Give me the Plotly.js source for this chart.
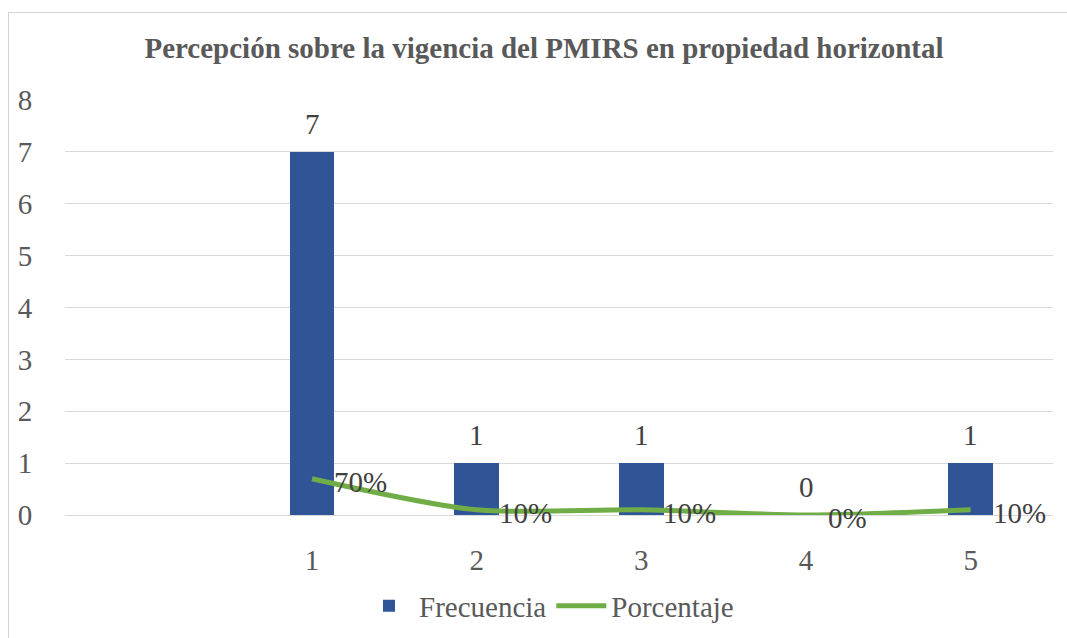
<!DOCTYPE html>
<html>
<head>
<meta charset="utf-8">
<script src="https://cdn.plot.ly/plotly-3.0.1.min.js"></script>
</head>
<body style="margin:0">
<div id="chart"></div>
<div style="position:absolute;left:8px;top:12px;width:1100px;height:700px;border:1px solid #d4d4d4;pointer-events:none;box-sizing:border-box"></div>
<script>
// Data
const categories = ['1', '2', '3', '4', '5'];
const frecuencia = [7, 1, 1, 0, 1];
const porcentaje = [0.7, 0.1, 0.1, 0, 0.1];
const yTicks = [0, 1, 2, 3, 4, 5, 6, 7, 8];

// x positions: slot 0 is an empty category, categories follow
const xPos = categories.map((c, i) => i + 1);

const SERIF = 'Liberation Serif';
const FS = 29;

const bars = {
  type: 'bar',
  name: 'Frecuencia',
  x: xPos,
  y: frecuencia,
  width: 0.27,
  marker: { color: '#2F5597' },
  hoverinfo: 'skip'
};

const line = {
  type: 'scatter',
  mode: 'lines',
  name: 'Porcentaje',
  x: xPos,
  y: porcentaje,
  line: { color: '#70AD47', width: 5, shape: 'spline', smoothing: 0.8 },
  hoverinfo: 'skip'
};

const barLabels = frecuencia.map((v, i) => ({
  x: xPos[i], y: v, xref: 'x', yref: 'y',
  text: String(v),
  showarrow: false, xanchor: 'center', yanchor: 'bottom',
  yshift: 10,
  font: { family: SERIF, size: FS, color: '#404040' }
}));

const lineLabels = porcentaje.map((p, i) => ({
  x: xPos[i], y: p, xref: 'x', yref: 'y',
  text: Math.round(p * 100) + '%',
  showarrow: false, xanchor: 'left', yanchor: 'middle',
  xshift: 20, yshift: -3,
  font: { family: SERIF, size: FS, color: '#404040' }
}));

const layout = {
  width: 1067, height: 638,
  margin: { l: 65, r: 14, t: 100, b: 123 },
  title: {
    text: '<b>Percepción sobre la vigencia del PMIRS en propiedad horizontal</b>',
    font: { family: SERIF, size: FS, color: '#595959' },
    x: 544 / 1067, xanchor: 'center', xref: 'container',
    y: 1 - 48 / 638, yanchor: 'middle', yref: 'container'
  },
  xaxis: {
    range: [-0.5, 5.5],
    tickmode: 'array', tickvals: xPos, ticktext: categories,
    showgrid: false, zeroline: false, showline: false,
    ticks: 'outside', ticklen: 19, tickcolor: 'rgba(0,0,0,0)',
    tickfont: { family: SERIF, size: FS, color: '#595959' }
  },
  yaxis: {
    range: [0, 8],
    tickmode: 'array', tickvals: yTicks, ticktext: yTicks.map(String),
    showgrid: true, gridcolor: '#d9d9d9', gridwidth: 1,
    zeroline: true, zerolinecolor: '#d9d9d9', zerolinewidth: 1,
    showline: false,
    ticks: 'outside', ticklen: 26, tickcolor: 'rgba(0,0,0,0)',
    tickfont: { family: SERIF, size: FS, color: '#595959' }
  },
  showlegend: true,
  legend: {
    orientation: 'h', x: 549 / 1067, xanchor: 'center', xref: 'container',
    y: 1 - 606 / 638, yanchor: 'middle', yref: 'container',
    font: { family: SERIF, size: FS, color: '#595959' },
    traceorder: 'normal', itemwidth: 50
  },
  annotations: barLabels.concat(lineLabels),
  bargap: 0
};

Plotly.newPlot('chart', [bars, line], layout, { displayModeBar: false });
</script>
</body>
</html>
